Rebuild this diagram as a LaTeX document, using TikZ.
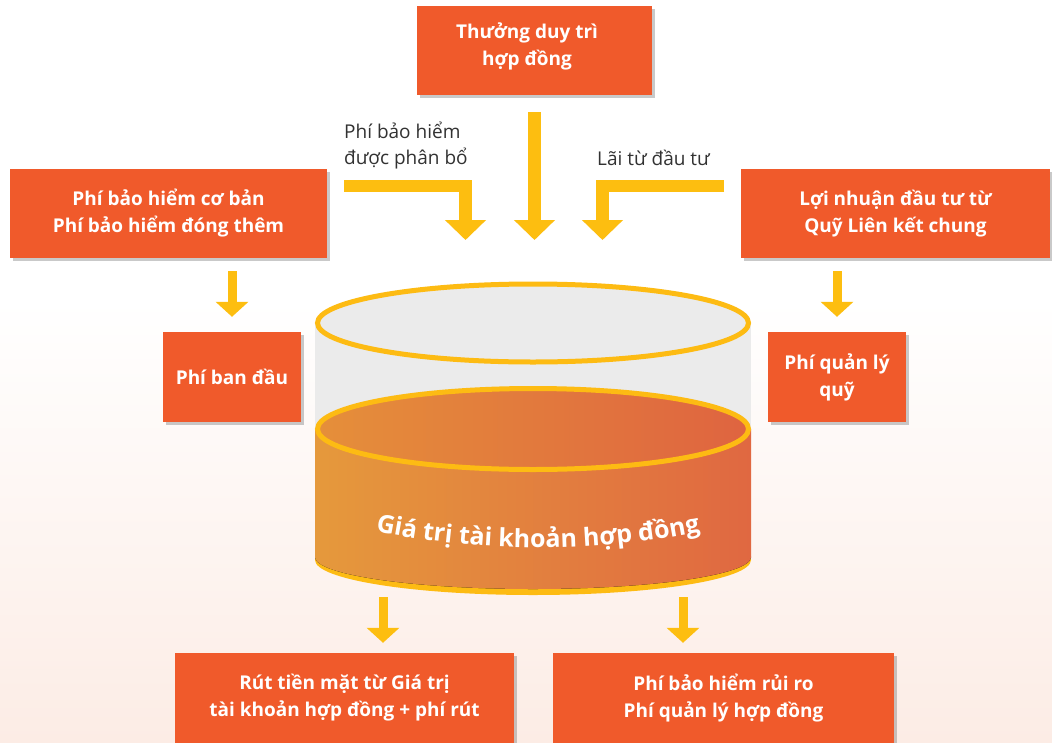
\documentclass[tikz,border=0pt]{standalone}
\usepackage{fontspec}
\setmainfont{Open Sans}
\usetikzlibrary{arrows.meta,shadows,decorations.text}
\definecolor{boxor}{RGB}{240,90,43}
\definecolor{arry}{RGB}{253,190,16}
\definecolor{rimy}{RGB}{253,187,19}
\definecolor{cylgray}{RGB}{235,235,235}
\definecolor{bodyL}{RGB}{229,153,60}
\definecolor{bodyR}{RGB}{224,104,65}
\definecolor{surfL}{RGB}{229,143,58}
\definecolor{surfR}{RGB}{223,100,64}
\definecolor{bgbot}{RGB}{252,236,229}
\definecolor{lbl}{RGB}{50,50,50}
\begin{document}
\begin{tikzpicture}[x=1pt,y=-1pt,
 boxtxt/.style={text=white, font=\fontsize{19}{27}\selectfont\bfseries, align=center, inner sep=0pt},
 obox/.style={boxtxt, fill=boxor, drop shadow={shadow xshift=3pt, shadow yshift=-3pt, opacity=0.35, fill=black!60}},
 bigarrow/.style={draw=arry, line width=12.5pt, line join=miter, -{Triangle[width=40pt,length=20pt]}},
 smallarrow/.style={draw=arry, line width=9pt, -{Triangle[width=32pt,length=15pt]}},
 lbltext/.style={text=lbl, font=\fontsize{19}{26}\selectfont, align=left, inner sep=0pt}]
\useasboundingbox (0,0) rectangle (1052,742);
\clip (0,0) rectangle (1052,742);
\fill[white] (0,0) rectangle (1052,742);
\shade[top color=white, bottom color=bgbot] (0,300) rectangle (1052,742);

% cylinder
\coordinate (cyltop) at (533,282);
\fill[cylgray] (315,323) rectangle (751,429);
\draw[rimy, line width=5pt, fill=cylgray] (533,323) ellipse [x radius=215.5, y radius=39];
\fill[rimy] (533,560) ellipse [x radius=218, y radius=35];
\fill[left color=bodyL, right color=bodyR] (533,557) ellipse [x radius=218, y radius=32];
\fill[left color=bodyL, right color=bodyR] (315,429) rectangle (751,557.5);
\draw[rimy, line width=5pt, left color=surfL, right color=surfR] (533,429) ellipse [x radius=215.5, y radius=40.5];
\path[decorate, decoration={text along path, text align=center, text color=white,
  text={|\fontsize{25}{25}\selectfont\bfseries|Giá trị tài khoản hợp đồng}}]
  (374,531) .. controls (480,553) and (600,553) .. (702,531);

% boxes
\node[obox, minimum width=235pt, minimum height=89pt] (top) at (534.5,50.5) {};
\node[boxtxt] (toptxt) at (527,46) {Thưởng duy trì\\hợp đồng};
\node[obox, minimum width=317pt, minimum height=89pt] (L) at (168.5,213.5) {Phí bảo hiểm cơ bản\\Phí bảo hiểm đóng thêm};
\node[obox, minimum width=138pt, minimum height=90pt] (PBD) at (232,377) {Phí ban đầu};
\node[obox, minimum width=309pt, minimum height=89pt] (R) at (895.5,213.5) {Lợi nhuận đầu tư từ\\Quỹ Liên kết chung};
\node[obox, minimum width=138pt, minimum height=90pt] (PQL) at (837,377) {Phí quản lý\\quỹ};
\node[obox, minimum width=339pt, minimum height=90pt] (BL) at (344.5,698) {Rút tiền mặt từ Giá trị\\tài khoản hợp đồng + phí rút};
\node[obox, minimum width=341pt, minimum height=90pt] (BR) at (723.5,698) {Phí bảo hiểm rủi ro\\Phí quản lý hợp đồng};

% labels
\node[lbltext, anchor=west] (lA) at (344,146) {Phí bảo hiểm\\được phân bổ};
\node[lbltext, anchor=base west] (lB) at (597,165) {Lãi từ đầu tư};

% arrows
\draw[bigarrow, shorten <=17pt, shorten >=42pt] (top.south) -- (top.south |- cyltop);
\coordinate (aLs) at (344,186);
\coordinate (aLe) at (465.5,240);
\draw[bigarrow] (aLs) -| (aLe);
\coordinate (aRs) at (724,186);
\coordinate (aRe) at (602.5,240);
\draw[bigarrow] (aRs) -| (aRe);
\draw[smallarrow, shorten <=13pt, shorten >=15pt] (PBD.north |- L.south) -- (PBD.north);
\draw[smallarrow, shorten <=13pt, shorten >=15pt] (PQL.north |- R.south) -- (PQL.north);
\coordinate (b1) at (383,597);
\coordinate (b2) at (683,597);
\draw[smallarrow, shorten >=10pt] (b1) -- (b1 |- BL.north);
\draw[smallarrow, shorten >=10pt] (b2) -- (b2 |- BR.north);
\end{tikzpicture}
\end{document}
